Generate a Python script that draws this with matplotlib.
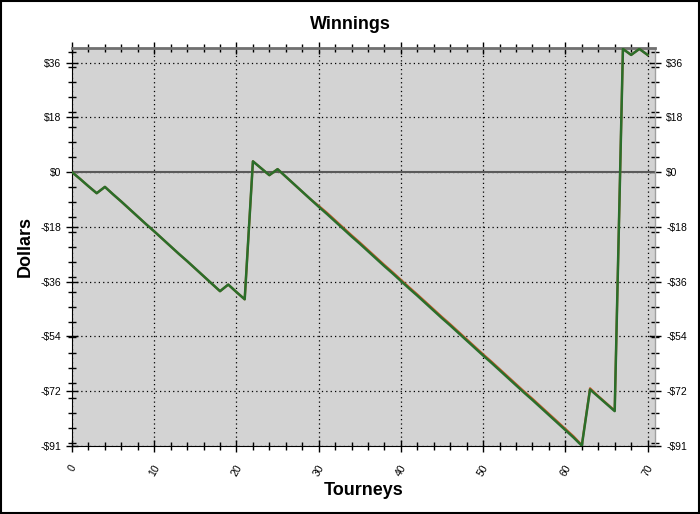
import matplotlib
matplotlib.use("Agg")
import matplotlib.pyplot as plt
from matplotlib.ticker import FixedLocator, MultipleLocator, FuncFormatter
from matplotlib.patches import Rectangle

plt.rcParams['font.family'] = ['Liberation Sans', 'DejaVu Sans']

tourneys = list(range(71))
winnings = [0.0, -2.3, -4.7, -7.0, -4.9, -7.4, -9.8, -12.3, -14.8, -17.3,
            -19.7, -22.2, -24.7, -27.2, -29.6, -32.1, -34.6, -37.1, -39.6, -37.4,
            -39.9, -42.3, 3.6, 1.3, -1.0, 1.0, -1.5, -4.0, -6.5, -9.0,
            -11.5, -13.9, -16.4, -18.9, -21.4, -23.8, -26.3, -28.8, -31.3, -33.7,
            -36.2, -38.7, -41.1, -43.6, -46.1, -48.6, -51.0, -53.5, -56.0, -58.5,
            -61.0, -63.4, -65.9, -68.4, -70.9, -73.4, -75.8, -78.3, -80.8, -83.3,
            -85.8, -88.3, -91.0, -72.3, -74.7, -77.1, -79.5, 41.0, 39.0, 41.0,
            39.0]
winnings_alt = [0.0, -2.3, -4.7, -7.0, -4.9, -7.4, -9.8, -12.3, -14.8, -17.3,
                -19.7, -22.2, -24.7, -27.2, -29.6, -32.1, -34.6, -37.1, -39.6, -37.4,
                -39.9, -42.3, 3.6, 1.3, -1.0, 1.0, -1.5, -4.0, -6.5, -9.0,
                -11.2, -13.5, -16.0, -18.5, -21.0, -23.4, -25.9, -28.4, -30.9, -33.3,
                -35.8, -38.3, -40.7, -43.2, -45.7, -48.2, -50.6, -53.1, -55.6, -58.1,
                -60.6, -63.0, -65.5, -68.0, -70.5, -73.0, -75.4, -77.9, -80.4, -82.9,
                -85.4, -87.9, -90.8, -71.9, -74.5, -76.9, -79.3, 41.0, 39.0, 41.0,
                39.0]
y_major = [-91.0, -72.8, -54.6, -36.4, -18.2, 0.0, 18.2, 36.4]

fig = plt.figure(figsize=(7.0, 5.14), dpi=100)
fig.patches.append(Rectangle((0.001, 0.001), 0.997, 0.997, transform=fig.transFigure,
                             fill=False, edgecolor='black', linewidth=1.5))
ax = fig.add_axes([0.1029, 0.1329, 0.8328, 0.7731])
ax.set_facecolor('#d3d3d3')

ax.plot(tourneys, winnings_alt, color='#c85a2a', linewidth=1.6, zorder=3)
ax.plot(tourneys, winnings, color='#2a6e2a', linewidth=1.8, zorder=4)
ax.axhline(0, color='#5a5a5a', linewidth=1.5, zorder=2)

ax.set_xlim(0, 70.9)
ax.set_ylim(-91, 41.2)

ax.xaxis.set_major_locator(MultipleLocator(10))
ax.xaxis.set_minor_locator(MultipleLocator(2))
ax.yaxis.set_major_locator(FixedLocator(y_major))
ax.yaxis.set_minor_locator(MultipleLocator(5))
ax.yaxis.set_major_formatter(FuncFormatter(
    lambda v, p: ('-$%d' % int(abs(v))) if v < -0.01 else ('$%d' % int(v))))

ax.grid(True, which='major', color='black', linestyle=(0, (1, 2.5)), linewidth=0.9, zorder=1)

ax.tick_params(axis='both', which='both', direction='inout', top=True, right=True,
               labelright=True, labelsize=7.5, colors='black')
ax.tick_params(axis='both', which='major', length=9, width=1)
ax.tick_params(axis='both', which='minor', length=6, width=1)
ax.tick_params(axis='x', which='major', pad=8)
for lab in ax.get_xticklabels():
    lab.set_rotation(60)
    lab.set_ha('center')

ax.spines['left'].set_color('black')
ax.spines['bottom'].set_color('black')
ax.spines['top'].set_color('#707070')
ax.spines['top'].set_linewidth(2.0)
ax.spines['right'].set_color('#a0a0a0')
ax.spines['right'].set_linewidth(1.0)

fig.text(0.5, 0.953, 'Winnings', ha='center', va='center', fontsize=13, fontweight='bold')
fig.text(0.519, 0.045, 'Tourneys', ha='center', va='center', fontsize=13, fontweight='bold')
fig.text(0.036, 0.52, 'Dollars', ha='center', va='center', fontsize=13, fontweight='bold',
         rotation=90)

fig.savefig('out.png', dpi=100)
